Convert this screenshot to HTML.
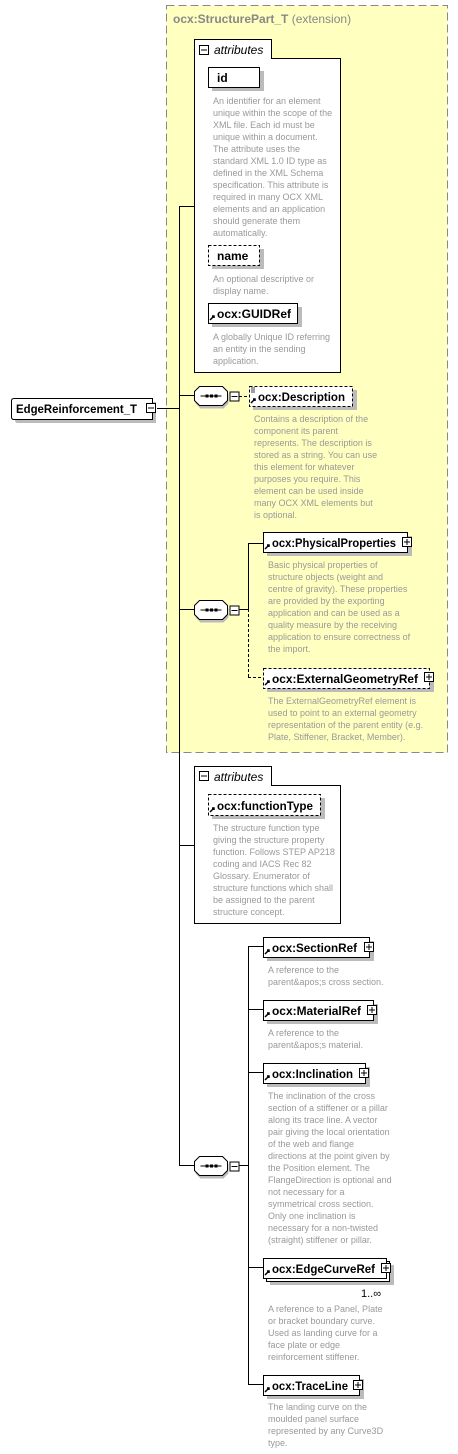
<!DOCTYPE html>
<html><head><meta charset="utf-8"><style>
html,body{margin:0;padding:0;background:#fff;}
svg{display:block;}
.n{font-family:"Liberation Sans",sans-serif;font-weight:bold;font-size:12px;fill:#000;}
.d{font-family:"Liberation Sans",sans-serif;font-size:9px;fill:#999;}
.t{font-family:"Liberation Sans",sans-serif;font-size:12px;fill:#888;}
.a{font-family:"Liberation Sans",sans-serif;font-style:italic;font-size:12px;fill:#000;}
</style></head><body>
<svg width="458" height="1454" viewBox="0 0 458 1454" xmlns="http://www.w3.org/2000/svg">
<defs>
<g id="oct"><polygon points="6,3 29,3 34,8 34,17 29,22 6,22 1,17 1,8" fill="#bbb"/><polygon points="5,0 28,0 33,5 33,14 28,19 5,19 0,14 0,5" fill="#fff" stroke="#000"/><line x1="6" y1="9.5" x2="27" y2="9.5" stroke="#000"/><rect x="11" y="8" width="3" height="3"/><rect x="15.5" y="8" width="3" height="3"/><rect x="20" y="8" width="3" height="3"/><rect x="35.5" y="5.5" width="9" height="9" fill="#fff" stroke="#000"/><line x1="37" y1="10" x2="43" y2="10" stroke="#000"/></g>
<g id="plus"><rect x="0.5" y="0.5" width="9" height="9" fill="#fff" stroke="#000"/><line x1="2" y1="5" x2="8" y2="5" stroke="#000"/><line x1="5" y1="2" x2="5" y2="8" stroke="#000"/></g>
<g id="ref"><path d="M1,9 L5,5 M3,5 L5,5 L5,7" stroke="#000" stroke-width="1.5" fill="none"/></g>
</defs>
<rect x="166.5" y="5.5" width="281" height="747" fill="#ffffc0" stroke="#888" stroke-dasharray="8,4"/>
<text x="173" y="23" class="t"><tspan font-weight="bold">ocx:StructurePart_T</tspan> (extension)</text>

<line x1="179.5" y1="206" x2="179.5" y2="1166" stroke="#000"/>
<line x1="179" y1="206.5" x2="194" y2="206.5" stroke="#000"/>
<line x1="157" y1="408.5" x2="179" y2="408.5" stroke="#000"/>
<line x1="179" y1="395.5" x2="194" y2="395.5" stroke="#000"/>
<line x1="179" y1="609.5" x2="194" y2="609.5" stroke="#000"/>
<line x1="179" y1="845.5" x2="194" y2="845.5" stroke="#000"/>
<line x1="179" y1="1165.5" x2="194" y2="1165.5" stroke="#000"/>

<path d="M18,402 H156 V423 H18 Q15,423 15,420 V405 Q15,402 18,402Z" fill="#bbb"/>
<path d="M14,398.5 H152.5 V419.5 H14 Q11.5,419.5 11.5,417 V401 Q11.5,398.5 14,398.5Z" fill="#fff" stroke="#000"/>
<text x="16" y="413" class="n" textLength="121" lengthAdjust="spacingAndGlyphs">EdgeReinforcement_T</text>
<rect x="146.5" y="403.5" width="9" height="9" fill="#fff" stroke="#000"/>
<line x1="148" y1="408" x2="154" y2="408" stroke="#000"/>

<path d="M194.5,58.5 V39.5 H271.5 V58.5 H340.5 V372.5 H194.5 Z" fill="#fff" stroke="#000"/>
<rect x="199.5" y="45.5" width="9" height="9" fill="#fff" stroke="#000"/><line x1="201" y1="50" x2="207" y2="50" stroke="#000"/>
<text x="214" y="54" class="a">attributes</text>
<rect x="212" y="71" width="52" height="20" fill="#bbb"/>
<rect x="208.5" y="67.5" width="51" height="20" fill="#fff" stroke="#000"/>
<text x="217" y="82" class="n">id</text>
<g class="d"><text x="213" y="104">An identifier for an element</text><text x="213" y="116">unique within the scope of the</text><text x="213" y="128">XML file. Each id must be</text><text x="213" y="140">unique within a document.</text><text x="213" y="152">The attribute uses the</text><text x="213" y="164">standard XML 1.0 ID type as</text><text x="213" y="176">defined in the XML Schema</text><text x="213" y="188">specification. This attribute is</text><text x="213" y="200">required in many OCX XML</text><text x="213" y="212">elements and an application</text><text x="213" y="224">should generate them</text><text x="213" y="236">automatically.</text></g>
<rect x="212" y="249" width="52" height="20" fill="#bbb"/>
<rect x="208.5" y="245.5" width="51" height="20" fill="#fff" stroke="#000" stroke-dasharray="3,2"/>
<text x="217" y="260" class="n">name</text>
<g class="d"><text x="213" y="282">An optional descriptive or</text><text x="213" y="294">display name.</text></g>
<rect x="212" y="307" width="90" height="20" fill="#bbb"/>
<rect x="208.5" y="303.5" width="89" height="20" fill="#fff" stroke="#000"/>
<use href="#ref" x="209" y="311"/>
<text x="217" y="318" class="n" textLength="74" lengthAdjust="spacingAndGlyphs">ocx:GUIDRef</text>
<g class="d"><text x="213" y="340">A globally Unique ID referring</text><text x="213" y="352">an entity in the sending</text><text x="213" y="364">application.</text></g>

<use href="#oct" x="194.5" y="386.5"/>
<line x1="239" y1="396.5" x2="249" y2="396.5" stroke="#000" stroke-dasharray="3,2"/>
<rect x="253" y="390" width="104" height="20" fill="#bbb"/>
<rect x="249.5" y="386.5" width="103" height="20" fill="#fff" stroke="#000" stroke-dasharray="3,2"/>
<use href="#ref" x="250" y="394"/>
<path d="M251,388 h4 M251,390 h4 M251,392 h4" stroke="#000" stroke-width="0.8"/>
<text x="258" y="401" class="n" textLength="87" lengthAdjust="spacingAndGlyphs">ocx:Description</text>
<g class="d"><text x="254" y="422">Contains a description of the</text><text x="254" y="434">component its parent</text><text x="254" y="446">represents. The description is</text><text x="254" y="458">stored as a string. You can use</text><text x="254" y="470">this element for whatever</text><text x="254" y="482">purposes you require. This</text><text x="254" y="494">element can be used inside</text><text x="254" y="506">many OCX XML elements but</text><text x="254" y="518">is optional.</text></g>

<use href="#oct" x="194.5" y="600.5"/>
<line x1="239" y1="609.5" x2="248" y2="609.5" stroke="#000"/>
<line x1="248.5" y1="543" x2="248.5" y2="609" stroke="#000"/>
<line x1="248.5" y1="609" x2="248.5" y2="678" stroke="#000" stroke-dasharray="3,2"/>
<line x1="248" y1="543.5" x2="263" y2="543.5" stroke="#000"/>
<line x1="248" y1="677.5" x2="263" y2="677.5" stroke="#000" stroke-dasharray="3,2"/>
<rect x="267" y="536" width="145" height="20" fill="#bbb"/>
<rect x="263.5" y="532.5" width="144" height="20" fill="#fff" stroke="#000"/>
<use href="#ref" x="264" y="540"/>
<text x="272" y="547" class="n" textLength="124" lengthAdjust="spacingAndGlyphs">ocx:PhysicalProperties</text>
<use href="#plus" x="402" y="537"/>
<g class="d"><text x="268" y="568">Basic physical properties of</text><text x="268" y="580">structure objects (weight and</text><text x="268" y="592">centre of gravity). These properties</text><text x="268" y="604">are provided by the exporting</text><text x="268" y="616">application and can be used as a</text><text x="268" y="628">quality measure by the receiving</text><text x="268" y="640">application to ensure correctness of</text><text x="268" y="652">the import.</text></g>
<rect x="267" y="672" width="167" height="20" fill="#bbb"/>
<rect x="263.5" y="668.5" width="166" height="20" fill="#fff" stroke="#000" stroke-dasharray="3,2"/>
<use href="#ref" x="264" y="676"/>
<text x="272" y="683" class="n" textLength="146" lengthAdjust="spacingAndGlyphs">ocx:ExternalGeometryRef</text>
<use href="#plus" x="424" y="672"/>
<g class="d"><text x="268" y="704">The ExternalGeometryRef element is</text><text x="268" y="716">used to point to an external geometry</text><text x="268" y="728">representation of the parent entity (e.g.</text><text x="268" y="740">Plate, Stiffener, Bracket, Member).</text></g>

<path d="M194.5,785.5 V766.5 H271.5 V785.5 H340.5 V923.5 H194.5 Z" fill="#fff" stroke="#000"/>
<rect x="199.5" y="771.5" width="9" height="9" fill="#fff" stroke="#000"/><line x1="201" y1="776" x2="207" y2="776" stroke="#000"/>
<text x="214" y="781" class="a">attributes</text>
<rect x="212" y="798" width="113" height="21" fill="#bbb"/>
<rect x="208.5" y="794.5" width="112" height="21" fill="#fff" stroke="#000" stroke-dasharray="3,2"/>
<use href="#ref" x="209" y="803"/>
<text x="217" y="810" class="n" textLength="96" lengthAdjust="spacingAndGlyphs">ocx:functionType</text>
<g class="d"><text x="213" y="831">The structure function type</text><text x="213" y="843">giving the structure property</text><text x="213" y="855">function. Follows STEP AP218</text><text x="213" y="867">coding and IACS Rec 82</text><text x="213" y="879">Glossary.  Enumerator of</text><text x="213" y="891">structure functions which shall</text><text x="213" y="903">be assigned to the parent</text><text x="213" y="915">structure concept.</text></g>

<use href="#oct" x="194.5" y="1156.5"/>
<line x1="239" y1="1165.5" x2="248" y2="1165.5" stroke="#000"/>
<line x1="248.5" y1="946" x2="248.5" y2="1385" stroke="#000"/>
<line x1="248" y1="946.5" x2="263" y2="946.5" stroke="#000"/>
<line x1="248" y1="1009.5" x2="263" y2="1009.5" stroke="#000"/>
<line x1="248" y1="1072.5" x2="263" y2="1072.5" stroke="#000"/>
<line x1="248" y1="1267.5" x2="263" y2="1267.5" stroke="#000"/>
<line x1="248" y1="1384.5" x2="263" y2="1384.5" stroke="#000"/>

<rect x="267" y="941" width="107" height="20" fill="#bbb"/>
<rect x="263.5" y="937.5" width="106" height="20" fill="#fff" stroke="#000"/>
<use href="#ref" x="264" y="945"/>
<text x="272" y="952" class="n" textLength="85" lengthAdjust="spacingAndGlyphs">ocx:SectionRef</text>
<use href="#plus" x="364" y="942"/>
<g class="d"><text x="268" y="973">A reference to the</text><text x="268" y="985">parent&amp;apos;s cross section.</text></g>

<rect x="267" y="1004" width="111" height="20" fill="#bbb"/>
<rect x="263.5" y="1000.5" width="110" height="20" fill="#fff" stroke="#000"/>
<use href="#ref" x="264" y="1008"/>
<text x="272" y="1015" class="n" textLength="89" lengthAdjust="spacingAndGlyphs">ocx:MaterialRef</text>
<use href="#plus" x="367" y="1005"/>
<g class="d"><text x="268" y="1036">A reference to the</text><text x="268" y="1048">parent&amp;apos;s material.</text></g>

<rect x="267" y="1067" width="103" height="20" fill="#bbb"/>
<rect x="263.5" y="1063.5" width="102" height="20" fill="#fff" stroke="#000"/>
<use href="#ref" x="264" y="1071"/>
<text x="272" y="1078" class="n" textLength="81" lengthAdjust="spacingAndGlyphs">ocx:Inclination</text>
<use href="#plus" x="359" y="1068"/>
<g class="d"><text x="268" y="1099">The inclination of the cross</text><text x="268" y="1111">section of a stiffener or a pillar</text><text x="268" y="1123">along its trace line. A vector</text><text x="268" y="1135">pair giving the local orientation</text><text x="268" y="1147">of the web and flange</text><text x="268" y="1159">directions at the point given by</text><text x="268" y="1171">the Position element. The</text><text x="268" y="1183">FlangeDirection is optional and</text><text x="268" y="1195">not necessary for a</text><text x="268" y="1207">symmetrical cross section.</text><text x="268" y="1219">Only one inclination is</text><text x="268" y="1231">necessary for a non-twisted</text><text x="268" y="1243">(straight) stiffener or pillar.</text></g>

<rect x="270" y="1265" width="124" height="20" fill="#bbb"/>
<rect x="266.5" y="1261.5" width="123" height="20" fill="#fff" stroke="#000"/>
<rect x="263.5" y="1258.5" width="123" height="20" fill="#fff" stroke="#000"/>
<use href="#ref" x="264" y="1266"/>
<text x="272" y="1273" class="n" textLength="103" lengthAdjust="spacingAndGlyphs">ocx:EdgeCurveRef</text>
<use href="#plus" x="381" y="1263"/>
<text x="361" y="1297" font-family="Liberation Sans,sans-serif" font-size="11" fill="#000">1..∞</text>
<g class="d"><text x="268" y="1312">A reference to a Panel, Plate</text><text x="268" y="1324">or bracket boundary curve.</text><text x="268" y="1336">Used as landing curve for a</text><text x="268" y="1348">face plate or edge</text><text x="268" y="1360">reinforcement stiffener.</text></g>

<rect x="267" y="1379" width="97" height="20" fill="#bbb"/>
<rect x="263.5" y="1375.5" width="96" height="20" fill="#fff" stroke="#000"/>
<use href="#ref" x="264" y="1383"/>
<text x="272" y="1390" class="n" textLength="76" lengthAdjust="spacingAndGlyphs">ocx:TraceLine</text>
<use href="#plus" x="353" y="1380"/>
<g class="d"><text x="268" y="1410">The landing curve on the</text><text x="268" y="1422">moulded panel surface</text><text x="268" y="1434">represented by any Curve3D</text><text x="268" y="1446">type.</text></g>
</svg>
</body></html>
